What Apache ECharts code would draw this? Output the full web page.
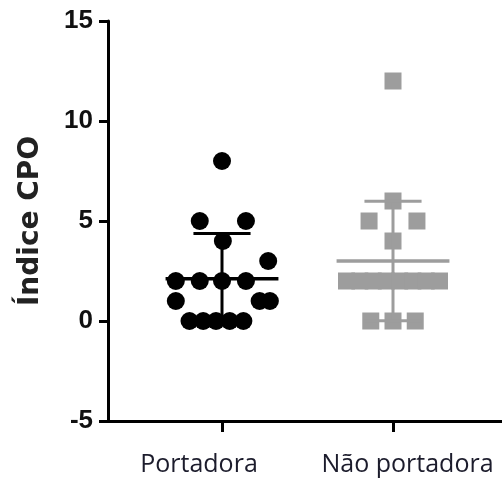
<!DOCTYPE html>
<html>
<head>
<meta charset="utf-8">
<script src="https://cdn.jsdelivr.net/npm/echarts@6/dist/echarts.min.js"></script>
<style>
  html, body { margin: 0; padding: 0; background: #ffffff; }
  #chart { width: 502px; height: 484px; }
</style>
</head>
<body>
<div id="chart"></div>
<script>
// Group names, in axis order (group 1, group 2)
const groups = ['Portadora', 'Não portadora'];

// CPO index per subject
const portadoraValues = [8, 5, 5, 4, 3, 2, 2, 2, 2, 1, 1, 1, 0, 0, 0, 0, 0];
const naoPortadoraValues = [12, 6, 5, 5, 4, 2, 2, 2, 2, 2, 2, 2, 2, 0, 0, 0];

// Horizontal scatter of each dot around its group centre (in group units)
const portadoraJitter = [0, -0.13, 0.14, 0.005, 0.27, -0.27, -0.13, 0, 0.14, -0.27, 0.22, 0.28, -0.19, -0.11, -0.035, 0.045, 0.125];
const naoPortadoraJitter = [0, 0, -0.14, 0.14, 0, -0.272, -0.194, -0.116, -0.039, 0.039, 0.116, 0.194, 0.272, -0.13, 0, 0.13];

// Value axis ticks
const yTicks = [-5, 0, 5, 10, 15];

function mean(a) { return a.reduce((s, v) => s + v, 0) / a.length; }
function sd(a) {
  const m = mean(a);
  return Math.sqrt(a.reduce((s, v) => s + (v - m) * (v - m), 0) / (a.length - 1));
}

const GRAY = '#9d9d9d';
const groupColors = ['#000000', GRAY];
const allValues = [portadoraValues, naoPortadoraValues];
const allJitter = [portadoraJitter, naoPortadoraJitter];

// mean ± SD summary per group: [groupPosition, mean, sd, groupIndex]
const summary = allValues.map((vals, i) => [i + 1, mean(vals), sd(vals), i]);

const chart = echarts.init(document.getElementById('chart'), null, { renderer: 'canvas' });

function errorBar(params, api) {
  const gx = api.value(0), m = api.value(1), s = api.value(2);
  const color = groupColors[api.value(3)];
  const meanHalf = 0.33, capHalf = 0.167;
  const pL = api.coord([gx - meanHalf, m]), pR = api.coord([gx + meanHalf, m]);
  const top = api.coord([gx, m + s]), bot = api.coord([gx, m - s]);
  const cTL = api.coord([gx - capHalf, m + s]), cTR = api.coord([gx + capHalf, m + s]);
  const cBL = api.coord([gx - capHalf, m - s]), cBR = api.coord([gx + capHalf, m - s]);
  const st = { stroke: color, lineWidth: 3 };
  return {
    type: 'group',
    children: [
      { type: 'line', shape: { x1: top[0], y1: top[1], x2: bot[0], y2: bot[1] }, style: st },
      { type: 'line', shape: { x1: cTL[0], y1: cTL[1], x2: cTR[0], y2: cTR[1] }, style: st },
      { type: 'line', shape: { x1: cBL[0], y1: cBL[1], x2: cBR[0], y2: cBR[1] }, style: st },
      { type: 'line', shape: { x1: pL[0], y1: pL[1], x2: pR[0], y2: pR[1] }, style: { stroke: color, lineWidth: 3.5 } }
    ]
  };
}

const option = {
  animation: false,
  backgroundColor: '#ffffff',
  grid: { left: 108, right: 0, top: 21, bottom: 63, containLabel: false },
  xAxis: {
    type: 'value',
    min: 1 / 3,
    max: 2.6374,
    splitLine: { show: false },
    axisLine: { show: true, onZero: false, lineStyle: { color: '#000', width: 3 } },
    axisTick: { show: true, customValues: [1, 2], length: 11, lineStyle: { color: '#000', width: 3 } },
    axisLabel: {
      show: true,
      customValues: [1, 2],
      margin: 31,
      formatter: v => (v === 1 ? '{a|' + groups[0] + '}' : '{b|' + groups[1] + '}'),
      rich: {
        a: { fontFamily: 'Open Sans', fontSize: 25, color: '#1c1c2c', padding: [0, 46, 0, 0] },
        b: { fontFamily: 'Open Sans', fontSize: 25, color: '#1c1c2c', padding: [0, 0, 0, 29] }
      }
    }
  },
  yAxis: {
    type: 'value',
    min: yTicks[0],
    max: yTicks[yTicks.length - 1],
    interval: 5,
    splitLine: { show: false },
    axisLine: { show: true, lineStyle: { color: '#000', width: 3 } },
    axisTick: { show: true, length: 9, lineStyle: { color: '#000', width: 3 } },
    axisLabel: {
      margin: 15,
      customValues: yTicks,
      fontFamily: 'Liberation Sans, Arial, sans-serif',
      fontWeight: 'bold',
      fontSize: 26,
      color: '#111'
    },
    name: 'Índice CPO',
    nameLocation: 'middle',
    nameGap: 63,
    nameTextStyle: {
      fontFamily: 'DejaVu Sans',
      fontWeight: 'bold',
      fontSize: 28,
      color: '#222'
    }
  },
  series: [
    {
      type: 'scatter',
      symbol: 'circle',
      symbolSize: 18,
      itemStyle: { color: groupColors[0], opacity: 1 },
      data: portadoraValues.map((v, i) => [1 + allJitter[0][i], v]),
      z: 2
    },
    {
      type: 'scatter',
      symbol: 'rect',
      symbolSize: 17,
      itemStyle: { color: groupColors[1], opacity: 1 },
      data: naoPortadoraValues.map((v, i) => [2 + allJitter[1][i], v]),
      z: 2
    },
    {
      type: 'custom',
      renderItem: errorBar,
      data: summary,
      z: 3,
      silent: true
    }
  ]
};

chart.setOption(option);
</script>
</body>
</html>
